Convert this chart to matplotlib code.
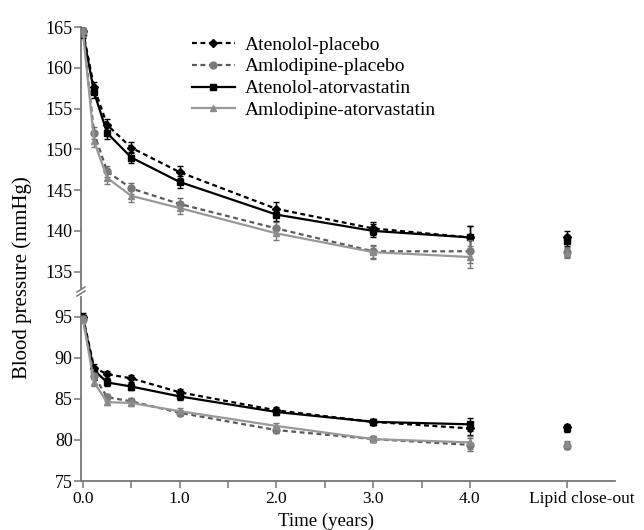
import matplotlib
matplotlib.use("Agg")
import matplotlib.pyplot as plt
from matplotlib.lines import Line2D
import matplotlib.transforms as mtrans

# ---------------- data ----------------
times = [0.0, 0.115, 0.25, 0.5, 1.0, 2.0, 3.0, 4.0]
closeout_x = 5.0
series_names = ["Atenolol-placebo", "Amlodipine-placebo",
                "Atenolol-atorvastatin", "Amlodipine-atorvastatin"]

# systolic (top panel)
sbp_aten_plac = [164.5, 157.6, 153.0, 150.2, 147.2, 142.7, 140.3, 139.2]
sbp_aml_plac  = [164.5, 152.0, 147.3, 145.2, 143.3, 140.3, 137.5, 137.5]
sbp_aten_ator = [164.3, 157.0, 152.0, 149.0, 146.0, 142.0, 140.0, 139.2]
sbp_aml_ator  = [164.5, 151.0, 146.5, 144.3, 142.8, 139.7, 137.4, 136.8]
sbp_close     = [139.3, 137.4, 138.8, 137.3]
sbp_err       = [0.6, 0.7, 0.7, 0.7, 0.7, 0.8, 0.8, 1.4]
sbp_close_err = [0.7, 0.6, 0.7, 0.6]

# diastolic (bottom panel)
dbp_aten_plac = [95.0, 88.8, 88.0, 87.5, 85.8, 83.6, 82.2, 81.4]
dbp_aml_plac  = [94.7, 87.8, 85.2, 84.7, 83.3, 81.2, 80.1, 79.4]
dbp_aten_ator = [94.8, 88.5, 87.0, 86.5, 85.3, 83.4, 82.2, 81.9]
dbp_aml_ator  = [94.7, 87.0, 84.6, 84.5, 83.5, 81.7, 80.1, 79.7]
dbp_close     = [81.6, 79.3, 81.4, 79.5]
dbp_err       = [0.4, 0.4, 0.4, 0.4, 0.4, 0.4, 0.4, 0.8]
dbp_close_err = [0.4, 0.4, 0.4, 0.4]

x_major = [0, 1, 2, 3, 4, 5]
x_major_labels = ["0.0", "1.0", "2.0", "3.0", "4.0", "Lipid close-out"]
x_minor = [0.5, 1.5, 2.5, 3.5]
top_yticks = [135, 140, 145, 150, 155, 160, 165]
bot_yticks = [75, 80, 85, 90, 95]

# ---------------- style ----------------
plt.rcParams['font.family'] = ['Liberation Serif', 'DejaVu Serif']
W, H = 644, 530
fig = plt.figure(figsize=(W / 100, H / 100), dpi=100)

def fx(px):
    return px / W

def fy(py):
    return 1 - py / H

left_px, right_px = 81, 615
ax_top = fig.add_axes([fx(left_px), fy(288), fx(right_px - left_px), fy(27) - fy(288)])
ax_bot = fig.add_axes([fx(left_px), fy(481), fx(right_px - left_px), fy(297) - fy(481)])

styles = [
    dict(color="black", ls=(0, (2.2, 1.6)), marker="D", ms=4.5, mfc="black", mec="black", ecolor="black"),
    dict(color="#5a5a5a", ls=(0, (2.2, 1.6)), marker="o", ms=5, mfc="#7a7a7a", mec="#7a7a7a", ecolor="#6a6a6a"),
    dict(color="black", ls="-", marker="s", ms=5, mfc="black", mec="black", ecolor="black"),
    dict(color="#999999", ls="-", marker="^", ms=5, mfc="#8a8a8a", mec="#8a8a8a", ecolor="#7a7a7a"),
]

top_series = [sbp_aten_plac, sbp_aml_plac, sbp_aten_ator, sbp_aml_ator]
bot_series = [dbp_aten_plac, dbp_aml_plac, dbp_aten_ator, dbp_aml_ator]

for ax, series, err, close, cerr in [
        (ax_top, top_series, sbp_err, sbp_close, sbp_close_err),
        (ax_bot, bot_series, dbp_err, dbp_close, dbp_close_err)]:
    for i, (vals, st) in enumerate(zip(series, styles)):
        ax.errorbar(times, vals, yerr=err, color=st["color"], ls=st["ls"], lw=1.6,
                    marker=st["marker"], ms=st["ms"], mfc=st["mfc"], mec=st["mec"],
                    ecolor=st["ecolor"], elinewidth=1.0, capsize=2.5, capthick=1.0,
                    zorder=3 + (i % 2))
        ax.errorbar([closeout_x], [close[i]], yerr=[cerr[i]], ls="none",
                    marker=st["marker"], ms=st["ms"], mfc=st["mfc"], mec=st["mec"],
                    ecolor=st["ecolor"], elinewidth=1.0, capsize=2.5, capthick=1.0,
                    zorder=3 + (i % 2))

spine_col = "#777777"
for ax in (ax_top, ax_bot):
    ax.set_xlim(-0.02, 5.5)
    for s in ("top", "right"):
        ax.spines[s].set_visible(False)
    ax.spines["left"].set_color(spine_col)
    ax.spines["left"].set_linewidth(1.3)
    ax.tick_params(axis="y", direction="out", length=5, width=1.1, color=spine_col,
                   labelsize=13, pad=1)
    ax.patch.set_alpha(0)

ax_top.set_ylim(133, 165)
ax_top.set_yticks(top_yticks)
ax_top.spines["bottom"].set_visible(False)
ax_top.tick_params(axis="x", bottom=False, labelbottom=False)

ax_bot.set_ylim(75, 97.4)
ax_bot.set_yticks(bot_yticks)
ax_bot.spines["bottom"].set_color(spine_col)
ax_bot.spines["bottom"].set_linewidth(1.3)
ax_bot.set_xticks(x_major)
ax_bot.set_xticklabels(x_major_labels)
ax_bot.set_xticks(x_minor, minor=True)
ax_bot.tick_params(axis="x", which="both", direction="out", length=5, width=1.1,
                   color=spine_col, labelsize=12.5, pad=2)
# shift the "Lipid close-out" label to the right as in the reference
last_lab = ax_bot.get_xticklabels()[-1]
last_lab.set_transform(last_lab.get_transform() +
                       mtrans.ScaledTranslation(15 / 100, 0, fig.dpi_scale_trans))

# axis break marks
for dy in (0, 4):
    fig.add_artist(Line2D([fx(77), fx(85)], [fy(292 + dy), fy(287 + dy)],
                          color=spine_col, lw=1.1))

fig.text(fx(22), fy(278), "Blood pressure (mmHg)", rotation=90, ha="center",
         va="center", fontsize=15)
fig.text(fx(326), fy(529.5), "Time (years)", ha="center", va="bottom", fontsize=13.5)

# legend
handles = []
for st, name in zip(styles, series_names):
    handles.append(Line2D([], [], color=st["color"], ls=st["ls"], lw=1.6,
                          marker=st["marker"], ms=st["ms"], mfc=st["mfc"], mec=st["mec"],
                          label=name))
fig.legend(handles=handles, loc="upper left", bbox_to_anchor=(fx(192), fy(36)),
           frameon=False, fontsize=14, handlelength=2.2, handletextpad=0.5,
           labelspacing=0.22, borderpad=0, borderaxespad=0)

fig.savefig("out.png", dpi=100)
